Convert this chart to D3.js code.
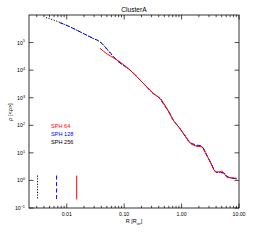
<!DOCTYPE html>
<html>
<head>
<meta charset="utf-8">
<script src="https://cdn.jsdelivr.net/npm/d3@7"></script>
<style>
  body { margin: 0; background: #fff; }
  svg { font-family: "Liberation Sans", Arial, sans-serif; }
</style>
</head>
<body>
<svg id="chart" width="258" height="241"></svg>
<script>
// Density profile data (R in R_vir, rho in <rho>)
const r256 = [0.00434, 0.0055, 0.00702, 0.009, 0.0114, 0.015, 0.0207, 0.028, 0.0379, 0.052, 0.0741, 0.127, 0.216, 0.323, 0.423, 0.483, 0.60, 0.721, 0.90, 1.08, 1.41, 1.80, 2.26, 2.58, 3.16, 4.02, 4.6, 5.38, 6.2, 7.05, 9.23];
const rho256 = [8.1e5, 6.9e5, 5.75e5, 4.6e5, 3.7e5, 2.8e5, 2.0e5, 1.45e5, 1.05e5, 5.2e4, 2.3e4, 1.0e4, 3300, 1410, 930, 620, 300, 151, 85, 50, 23, 18.5, 16.5, 10.7, 4.7, 2.0, 1.9, 1.9, 1.35, 1.25, 1.15];

const r128 = [0.0075, 0.009, 0.0114, 0.015, 0.0207, 0.028, 0.0379, 0.052, 0.0741, 0.127, 0.216, 0.323, 0.423, 0.483, 0.60, 0.721, 0.90, 1.08, 1.41, 1.80, 2.26, 2.58, 3.16, 4.02, 4.6, 5.38, 6.2, 7.05, 9.1];
const rho128 = [5.3e5, 4.6e5, 3.7e5, 2.8e5, 2.0e5, 1.45e5, 1.08e5, 5.4e4, 2.3e4, 1.0e4, 3300, 1400, 900, 600, 300, 150, 85, 50, 24, 19.5, 17.5, 10.5, 4.8, 2.0, 1.95, 1.85, 1.4, 1.25, 1.15];

const r64 = [0.038, 0.05, 0.0741, 0.127, 0.216, 0.323, 0.40, 0.45, 0.483, 0.60, 0.721, 0.90, 1.08, 1.41, 1.80, 2.0, 2.26, 2.58, 3.16, 4.02, 4.6, 5.0, 5.6, 6.2, 7.05, 9.0];
const rho64 = [6.2e4, 3.9e4, 2.4e4, 1.0e4, 3300, 1450, 1020, 820, 640, 310, 151, 84, 50, 23, 17.5, 17.0, 16.5, 10.3, 4.6, 2.0, 2.1, 2.15, 1.7, 1.3, 1.25, 1.2];

const series = [
  { name: "SPH 64", color: "#ff0000", dash: null, r: r64, rho: rho64 },
  { name: "SPH 128", color: "#0000ff", dash: "4,2.5", r: r128, rho: rho128 },
  { name: "SPH 256", color: "#000000", dash: "1.2,1.5", r: r256, rho: rho256 }
];

// softening lengths drawn as vertical bars
const softR = [0.0149, 0.00665, 0.0031];
const softRange = [0.204, 1.5];

const xTicks = [0.01, 0.1, 1, 10];
const xTickLabels = ["0.01", "0.10", "1.00", "10.00"];
const yTicks = [-1, 0, 1, 2, 3, 4, 5];

const svg = d3.select("#chart");
const mLeft = 29, mRight = 239, mTop = 15, mBottom = 208;

const x = d3.scaleLog().domain([0.0022, 10]).range([mLeft, mRight]);
const y = d3.scaleLog().domain([0.1, 1e6]).range([mBottom, mTop]);

// frame
svg.append("rect")
  .attr("x", mLeft).attr("y", mTop)
  .attr("width", mRight - mLeft).attr("height", mBottom - mTop)
  .attr("fill", "none").attr("stroke", "#000").attr("stroke-width", 0.8);

// x ticks (bottom and top, inward), major + minor
const xMinor = [];
for (let e = -3; e <= 1; e++) {
  for (let m = 1; m <= 9; m++) {
    const v = m * Math.pow(10, e);
    if (v >= 0.0022 && v <= 10) xMinor.push(v);
  }
}
const tickG = svg.append("g").attr("stroke", "#000").attr("stroke-width", 0.7);
xMinor.forEach((v) => {
  const major = xTicks.some((t) => Math.abs(t - v) / t < 1e-6);
  const len = major ? 4.5 : 2.2;
  tickG.append("line").attr("x1", x(v)).attr("x2", x(v)).attr("y1", mBottom).attr("y2", mBottom - len);
  tickG.append("line").attr("x1", x(v)).attr("x2", x(v)).attr("y1", mTop).attr("y2", mTop + len);
});

// y ticks (left and right, inward)
yTicks.forEach((e) => {
  const yy = y(Math.pow(10, e));
  tickG.append("line").attr("x1", mLeft).attr("x2", mLeft + 4.5).attr("y1", yy).attr("y2", yy);
  tickG.append("line").attr("x1", mRight).attr("x2", mRight - 4.5).attr("y1", yy).attr("y2", yy);
});

// x tick labels
xTicks.forEach((v, i) => {
  svg.append("text")
    .attr("x", x(v)).attr("y", 216)
    .attr("text-anchor", "middle")
    .attr("font-size", 5.2)
    .text(xTickLabels[i]);
});

// y tick labels 10^n
yTicks.forEach((e) => {
  const t = svg.append("text")
    .attr("x", 25).attr("y", y(Math.pow(10, e)) + 2)
    .attr("text-anchor", "end")
    .attr("font-size", 5.2);
  t.append("tspan").text("10");
  t.append("tspan").attr("dy", -2.2).attr("font-size", 3.8)
    .text(e < 0 ? "\u2212" + Math.abs(e) : String(e));
});

// title
svg.append("text")
  .attr("x", (mLeft + mRight) / 2).attr("y", 12)
  .attr("text-anchor", "middle")
  .attr("font-size", 6.6)
  .text("ClusterA");

// x axis title
const xt = svg.append("text")
  .attr("x", (mLeft + mRight) / 2).attr("y", 223)
  .attr("text-anchor", "middle")
  .attr("font-size", 5.5);
xt.append("tspan").text("R [R");
xt.append("tspan").attr("dy", 1.5).attr("font-size", 3.8).text("vir");
xt.append("tspan").attr("dy", -1.5).text("]");

// y axis title
svg.append("text")
  .attr("transform", "translate(12,112) rotate(-90)")
  .attr("text-anchor", "middle")
  .attr("font-size", 5.5)
  .text("\u03c1 [<\u03c1>]");

// profiles
const line = d3.line()
  .x((d) => x(d[0]))
  .y((d) => y(d[1]))
  .curve(d3.curveMonotoneX);

[...series].reverse().forEach((s) => {
  svg.append("path")
    .datum(s.r.map((v, i) => [v, s.rho[i]]))
    .attr("d", line)
    .attr("fill", "none")
    .attr("stroke", s.color)
    .attr("stroke-width", 1)
    .attr("stroke-dasharray", s.dash);
});

// softening bars
series.forEach((s, i) => {
  svg.append("line")
    .attr("x1", x(softR[i])).attr("x2", x(softR[i]))
    .attr("y1", y(softRange[1])).attr("y2", y(softRange[0]))
    .attr("stroke", s.color)
    .attr("stroke-width", 1)
    .attr("stroke-dasharray", s.dash);
});

// legend
series.forEach((s, i) => {
  svg.append("text")
    .attr("x", 51).attr("y", 127.5 + i * 8.3)
    .attr("font-size", 5.6)
    .attr("fill", s.color)
    .text(s.name);
});
</script>
</body>
</html>
